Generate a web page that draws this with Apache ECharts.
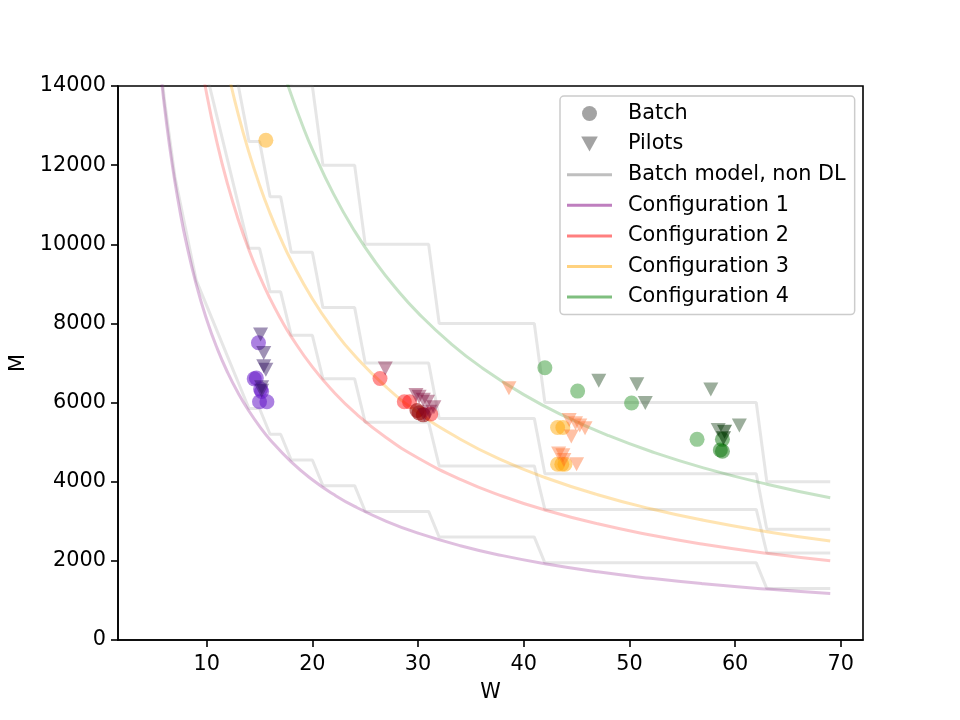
<!DOCTYPE html>
<html>
<head>
    <meta charset="utf-8">
    <title>M vs W</title>
    <script src="https://cdn.jsdelivr.net/npm/echarts@6/dist/echarts.min.js"></script>
    <style>
        html, body { margin: 0; padding: 0; background: #fff; }
    </style>
</head>
<body>
    <div id="main" style="width: 960px;height:720px;"></div>
    <script type="text/javascript">
// tick labels
var xTicks = [10, 20, 30, 40, 50, 60, 70];

// stepped batch model (non DL): W breakpoints and M levels for each of the 4 configurations
var stepW = [5, 6, 7, 8, 9, 10, 11, 12, 13, 14, 15, 16, 17, 18, 20, 21, 24, 25, 31, 32, 41, 42, 62, 63, 69];
var stepA = [16250, 13650, 11700, 10400, 9100, 8450, 7800, 7150, 6500, 5850, 5850, 5200, 5200, 4550, 4550, 3900, 3900, 3250, 3250, 2600, 2600, 1950, 1950, 1300, 1300];
var stepB = [27500, 23100, 19800, 17600, 15400, 14300, 13200, 12100, 11000, 9900, 9900, 8800, 8800, 7700, 7700, 6600, 6600, 5500, 5500, 4400, 4400, 3300, 3300, 2200, 2200];
var stepC = [35000, 29400, 25200, 22400, 19600, 18200, 16800, 15400, 14000, 12600, 12600, 11200, 11200, 9800, 9800, 8400, 8400, 7000, 7000, 5600, 5600, 4200, 4200, 2800, 2800];
var stepD = [50000, 42000, 36000, 32000, 28000, 26000, 24000, 22000, 20000, 18000, 18000, 16000, 16000, 14000, 14000, 12000, 12000, 10000, 10000, 8000, 8000, 6000, 6000, 4000, 4000];

// configuration curves, [W, M]
var config1 = [[5.5, 14727], [6, 13500], [6.5, 12462], [7, 11571], [7.5, 10800], [8, 10125], [9, 9000], [10, 8100], [11, 7364], [12, 6750], [13, 6231], [14, 5786], [15, 5400], [16, 5063], [18, 4500], [20, 4050], [22, 3682], [24, 3375], [27, 3000], [30, 2700], [34, 2382], [38, 2132], [42, 1929], [47, 1723], [52, 1558], [57, 1421], [63, 1286], [69, 1174]];
var config2 = [[9, 15333], [10, 13800], [11, 12545], [12, 11500], [13, 10615], [14, 9857], [15, 9200], [16, 8625], [17, 8118], [18, 7667], [20, 6900], [22, 6273], [24, 5750], [27, 5111], [30, 4600], [34, 4059], [38, 3632], [42, 3286], [47, 2936], [52, 2654], [57, 2421], [63, 2190], [69, 2000]];
var config3 = [[12, 14375], [13, 13269], [14, 12321], [15, 11500], [16, 10781], [17, 10147], [18, 9583], [20, 8625], [22, 7841], [24, 7188], [27, 6389], [30, 5750], [34, 5074], [38, 4539], [42, 4107], [47, 3670], [52, 3317], [57, 3026], [63, 2738], [69, 2500]];
var config4 = [[17, 14588], [18, 13778], [19, 13053], [20, 12400], [22, 11273], [24, 10333], [26, 9538], [28, 8857], [30, 8267], [33, 7515], [36, 6889], [40, 6200], [44, 5636], [48, 5167], [52, 4769], [57, 4351], [63, 3937], [69, 3594]];

// measured points, [W, M]
var purpleBatch = [[14.9, 7510], [14.5, 6600], [14.7, 6620], [15.1, 6340], [15.2, 6280], [15.0, 6020], [15.7, 6020]];
var purplePilots = [[15.1, 7720], [15.4, 7250], [15.4, 6920], [15.6, 6830], [15.2, 6390], [15.2, 6300]];
var redBatch = [[26.4, 6610], [28.7, 6020], [29.2, 6020], [31.2, 5710]];
var darkRedBatch = [[30.1, 5740], [30.5, 5690], [29.9, 5800]];
var redPilots = [[26.9, 6860], [29.8, 6190], [30.1, 6150], [30.5, 6070], [30.9, 6020], [31.5, 5880], [31.1, 5770], [30.6, 5690]];
var orangeBatch = [[15.6, 12630], [43.2, 5370], [43.7, 5370], [43.2, 4440], [43.6, 4440], [43.9, 4440]];
var orangePilots = [[38.6, 6360], [44.3, 5560], [44.9, 5480], [45.3, 5420], [45.8, 5350], [44.5, 5140], [43.3, 4710], [43.7, 4670], [45.0, 4440], [43.8, 4550]];
var greenBatch = [[42.0, 6880], [45.1, 6290], [50.2, 5990], [56.4, 5070]];
var darkGreenBatch = [[58.8, 5070], [58.8, 4770], [58.6, 4800]];
var greenPilots = [[47.1, 6550], [50.7, 6460], [51.5, 5990], [57.7, 6330], [58.4, 5310], [60.4, 5420]];
var darkGreenPilots = [[59.0, 5260], [58.9, 5100]];

var FONT = 'DejaVu Sans';
var myChart = echarts.init(document.getElementById('main'));

function pairs(xs, ys) {
    return xs.map(function (x, i) { return [x, ys[i]]; });
}

function stepSeries(levels) {
    return {
        name: 'Batch model, non DL',
        type: 'line',
        data: pairs(stepW, levels),
        symbol: 'none',
        lineStyle: { color: 'rgba(128,128,128,0.2)', width: 3 },
        itemStyle: { color: 'rgba(128,128,128,0.2)' },
        z: 1,
        silent: true
    };
}

function curveSeries(name, data, color) {
    return {
        name: name,
        type: 'line',
        data: data,
        smooth: true,
        symbol: 'none',
        lineStyle: { color: color, width: 3 },
        itemStyle: { color: color },
        z: 2,
        silent: true
    };
}

function pointSeries(data, color, pilot) {
    return {
        type: 'scatter',
        data: data,
        symbol: pilot ? 'triangle' : 'circle',
        symbolRotate: pilot ? 180 : 0,
        symbolSize: pilot ? [15, 14] : 15,
        itemStyle: { color: color },
        z: 3
    };
}

var lineIcon = 'path://M0,0L45,0L45,3L0,3Z';
var triIcon = 'path://M0,0L10,0L5,9Z';

option = {
    animation: false,
    backgroundColor: '#fff',
    textStyle: { fontFamily: FONT },
    grid: { left: 118, right: 97, top: 86, bottom: 80, containLabel: false, outerBoundsMode: 'none', show: true, borderColor: '#000', borderWidth: 1.6, backgroundColor: 'transparent' },
    legend: {
        orient: 'vertical',
        left: 560,
        top: 96,
        padding: [7, 9, 7, 7],
        itemWidth: 45,
        itemHeight: 15,
        itemGap: 9.6,
        backgroundColor: 'rgba(255,255,255,0.8)',
        borderColor: '#cccccc',
        borderWidth: 1.5,
        borderRadius: 4,
        textStyle: { fontFamily: FONT, fontSize: 20.8, color: '#000', lineHeight: 21, padding: [0, 0, 0, 11] },
        data: [
            { name: 'Batch', icon: 'circle', itemStyle: { color: 'rgba(0,0,0,0.45)' } },
            { name: 'Pilots', icon: triIcon, itemStyle: { color: 'rgba(0,0,0,0.45)' } },
            { name: 'Batch model, non DL', icon: lineIcon, itemStyle: { color: 'rgba(128,128,128,0.5)' }, lineStyle: { width: 0 } },
            { name: 'Configuration 1', icon: lineIcon, itemStyle: { color: 'rgba(128,0,128,0.5)' }, lineStyle: { width: 0 } },
            { name: 'Configuration 2', icon: lineIcon, itemStyle: { color: 'rgba(255,0,0,0.5)' }, lineStyle: { width: 0 } },
            { name: 'Configuration 3', icon: lineIcon, itemStyle: { color: 'rgba(255,165,0,0.5)' }, lineStyle: { width: 0 } },
            { name: 'Configuration 4', icon: lineIcon, itemStyle: { color: 'rgba(0,128,0,0.5)' }, lineStyle: { width: 0 } }
        ],
        selectedMode: false
    },
    xAxis: {
        type: 'value',
        min: 1.61,
        max: 72.1,
        name: 'W',
        nameLocation: 'middle',
        nameGap: 42,
        nameTextStyle: { fontFamily: FONT, fontSize: 20.8, color: '#000' },
        axisLine: { show: true, lineStyle: { color: '#000', width: 1.6 } },
        axisTick: { show: true, inside: false, length: 7, lineStyle: { color: '#000', width: 1.6 }, customValues: xTicks },
        axisLabel: { fontFamily: FONT, fontSize: 20.8, color: '#000', margin: 14, customValues: xTicks },
        splitLine: { show: false }
    },
    yAxis: {
        type: 'value',
        min: 0,
        max: 14000,
        interval: 2000,
        name: 'M',
        nameLocation: 'middle',
        nameGap: 82,
        nameTextStyle: { fontFamily: FONT, fontSize: 20.8, color: '#000' },
        axisLine: { show: true, lineStyle: { color: '#000', width: 1.6 } },
        axisTick: { show: true, inside: false, length: 7, lineStyle: { color: '#000', width: 1.6 } },
        axisLabel: { fontFamily: FONT, fontSize: 20.8, color: '#000', margin: 12, formatter: function (v) { return String(v); } },
        splitLine: { show: false }
    },
    series: [
        { name: 'Batch', type: 'scatter', data: [], itemStyle: { color: 'rgba(0,0,0,0.45)' } },
        { name: 'Pilots', type: 'scatter', data: [], itemStyle: { color: 'rgba(0,0,0,0.45)' } },
        stepSeries(stepA),
        stepSeries(stepB),
        stepSeries(stepC),
        stepSeries(stepD),
        curveSeries('Configuration 1', config1, 'rgba(128,0,128,0.25)'),
        curveSeries('Configuration 2', config2, 'rgba(255,0,0,0.22)'),
        curveSeries('Configuration 3', config3, 'rgba(255,165,0,0.3)'),
        curveSeries('Configuration 4', config4, 'rgba(0,128,0,0.22)'),
        pointSeries(purpleBatch, 'rgba(100,20,200,0.68)', false),
        pointSeries(purplePilots, 'rgba(55,25,100,0.6)', true),
        pointSeries(redBatch, 'rgba(255,0,0,0.55)', false),
        pointSeries(darkRedBatch, 'rgba(150,0,0,0.7)', false),
        pointSeries(redPilots, 'rgba(120,0,50,0.5)', true),
        pointSeries(orangeBatch, 'rgba(255,165,0,0.6)', false),
        pointSeries(orangePilots, 'rgba(255,100,30,0.5)', true),
        pointSeries(greenBatch, 'rgba(0,128,0,0.5)', false),
        pointSeries(darkGreenBatch, 'rgba(0,110,0,0.6)', false),
        pointSeries(greenPilots, 'rgba(30,70,30,0.55)', true),
        pointSeries(darkGreenPilots, 'rgba(0,50,0,0.7)', true)
    ]
};

myChart.setOption(option);
    </script>
</body>
</html>
